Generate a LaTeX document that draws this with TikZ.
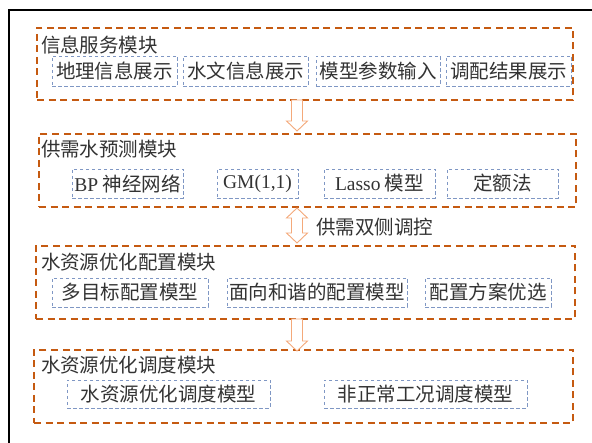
\documentclass[tikz,border=0pt]{standalone}
\usepackage{fontspec}
\setmainfont{Liberation Serif}
\newfontfamily\cjk{Noto Sans CJK SC}
\definecolor{modorange}{HTML}{C55A11}
\definecolor{subblue}{HTML}{7F97C4}
\definecolor{arrowor}{HTML}{F4A97A}
\definecolor{txt}{HTML}{333333}
\begin{document}
\begin{tikzpicture}[x=1pt,y=-1pt,
  every node/.style={inner sep=0pt,outer sep=0pt,text=txt,font=\fontsize{19.5}{22}\selectfont\cjk},
  modbox/.style={draw=modorange,line width=1.3pt,dash pattern=on 7pt off 4.5pt,rectangle,minimum height=73pt},
  subbox/.style={draw=subblue,line width=0.8pt,dash pattern=on 3.5pt off 2.5pt,rectangle},
  rowa/.style={subbox,minimum height=30pt},
  rowb/.style={subbox,minimum height=29pt},
  rowc/.style={subbox,minimum height=29pt},
  rowd/.style={subbox,minimum height=28pt},
  title/.style={anchor=west},
  hollow/.style={draw=arrowor,line width=0.9pt,fill=white,line join=miter},
  lat/.style={font=\fontsize{19.5}{22}\selectfont\rmfamily}
]
\useasboundingbox (0,0) rectangle (592,443);
\draw[line width=1.5pt,black] (9,443) -- (9,10) -- (592,10);

% module boxes
\node[modbox,minimum width=536pt,minimum height=72pt] (m1) at (305,64) {};
\node[modbox,minimum width=537pt] (m2) at (307.5,170.5) {};
\node[modbox,minimum width=539pt] (m3) at (305.5,282.5) {};
\node[modbox,minimum width=539pt] (m4) at (303.5,386.5) {};

% titles
\node[title] (t1) at (41,45) {信息服务模块};
\node[title] (t2) at (41,149) {供需水预测模块};
\node[title] (t3) at (41,262) {水资源优化配置模块};
\node[title] (t4) at (41,365) {水资源优化调度模块};

% row 1
\node[rowa,minimum width=125pt] (a1) at (114.5,71) {地理信息展示};
\node[rowa,minimum width=125pt] (a2) at (245.5,71) {水文信息展示};
\node[rowa,minimum width=124pt] (a3) at (378,71) {模型参数输入};
\node[rowa,minimum width=125pt] (a4) at (508.5,71) {调配结果展示};

% row 2
\node[rowb,minimum width=111pt] (b1) at (127.5,183.5) {{\rmfamily BP} 神经网络};
\node[rowb,minimum width=81pt,lat] (b2) at (257.5,183.5) {GM(1,1)};
\node[rowb,minimum width=111pt] (b3) at (379.5,183.5) {{\rmfamily Lasso} 模型};
\node[rowb,minimum width=111pt] (b4) at (502.5,183.5) {定额法};

% row 3
\node[rowc,minimum width=156pt] (c1) at (130,292.5) {多目标配置模型};
\node[rowc,minimum width=180pt] (c2) at (317,292.5) {面向和谐的配置模型};
\node[rowc,minimum width=126pt] (c3) at (488,292.5) {配置方案优选};

% row 4
\node[rowd,minimum width=203pt] (d1) at (168.5,394) {水资源优化调度模型};
\node[rowd,minimum width=203pt] (d2) at (425.5,394) {非正常工况调度模型};

% arrows
\coordinate (p1) at (297,100);
\coordinate (p2) at (297,208);
\coordinate (p3) at (297,319);
\draw[hollow] (p1) ++(-5.5,0) -- ++(11,0) -- ++(0,21) -- ++(5,0) -- ++(-10.5,10) -- ++(-10.5,-10) -- ++(5,0) -- cycle;
\draw[hollow] (p2) -- ++(10.5,10) -- ++(-5,0) -- ++(0,15) -- ++(5,0) -- ++(-10.5,10) -- ++(-10.5,-10) -- ++(5,0) -- ++(0,-15) -- ++(-5,0) -- cycle;
\draw[hollow] (p3) ++(-5.5,0) -- ++(11,0) -- ++(0,22) -- ++(5,0) -- ++(-10.5,10) -- ++(-10.5,-10) -- ++(5,0) -- cycle;

\node[anchor=west] (lbl) at (316,227) {供需双侧调控};
\end{tikzpicture}
\end{document}
